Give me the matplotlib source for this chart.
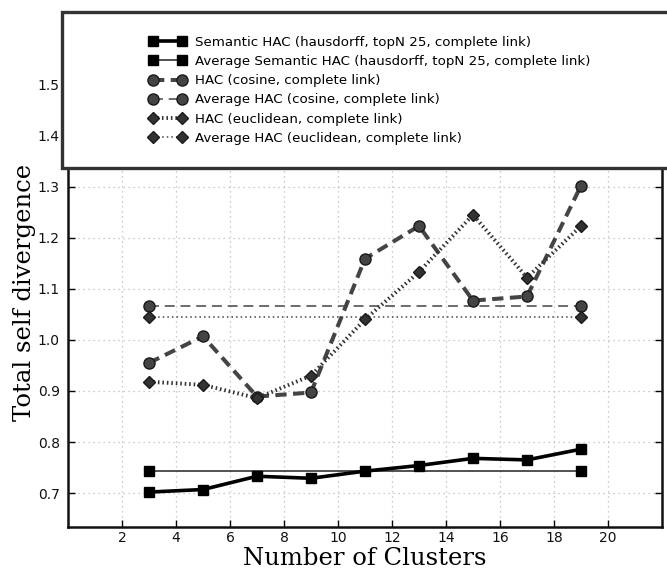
import matplotlib
matplotlib.use("Agg")
import matplotlib.pyplot as plt
from matplotlib.patches import Rectangle

# Number of clusters evaluated
clusters = [3, 5, 7, 9, 11, 13, 15, 17, 19]

# Total self divergence per clustering method
semantic_hac = [0.702, 0.707, 0.733, 0.729, 0.743, 0.754, 0.768, 0.765, 0.786]
hac_cosine = [0.955, 1.007, 0.889, 0.897, 1.159, 1.223, 1.077, 1.085, 1.302]
hac_euclidean = [0.918, 0.912, 0.886, 0.930, 1.040, 1.133, 1.245, 1.122, 1.223]

# Averages over all cluster counts, drawn across the evaluated range
avg_span = [3, 19]
avg_semantic = [0.743, 0.743]
avg_cosine = [1.066, 1.066]
avg_euclidean = [1.045, 1.045]

x_ticks = [2, 4, 6, 8, 10, 12, 14, 16, 18, 20]
y_ticks = [0.7, 0.8, 0.9, 1.0, 1.1, 1.2, 1.3, 1.4, 1.5]

W, H = 667, 571
fig = plt.figure(figsize=(W / 100, H / 100), dpi=100)
ax = fig.add_axes([68 / W, 1 - 527 / H, (662 - 68) / W, (527 - 58) / H])

l1, = ax.plot(clusters, semantic_hac, color="black", lw=2.6, marker="s",
              ms=7.5, mfc="black", mec="black", zorder=5,
              label="Semantic HAC (hausdorff, topN 25, complete link)")
l2, = ax.plot(avg_span, avg_semantic, color="#333333", lw=1.2, marker="s",
              ms=7.5, mfc="black", mec="black", zorder=4,
              label="Average Semantic HAC (hausdorff, topN 25, complete link)")
l3, = ax.plot(clusters, hac_cosine, color="#444444", lw=2.9, ls=(0, (2.8, 1.6)),
              marker="o", ms=8, mfc="#444444", mec="#1a1a1a", mew=1, zorder=4,
              label="HAC (cosine, complete link)")
l4, = ax.plot(avg_span, avg_cosine, color="#444444", lw=1.1, ls=(0, (6.5, 3.8)),
              marker="o", ms=8, mfc="#444444", mec="#1a1a1a", mew=1, zorder=3,
              label="Average HAC (cosine, complete link)")
l5, = ax.plot(clusters, hac_euclidean, color="#333333", lw=2.8, ls=(0, (0.4, 0.75)),
              marker="D", ms=6.5, mfc="#333333", mec="#1a1a1a", mew=1, zorder=4,
              label="HAC (euclidean, complete link)")
l6, = ax.plot(avg_span, avg_euclidean, color="#444444", lw=1.1, ls=(0, (1, 2)),
              marker="D", ms=6.5, mfc="#333333", mec="#1a1a1a", mew=1, zorder=3,
              label="Average HAC (euclidean, complete link)")

ax.set_xlim(0, 22)
ax.set_ylim(0.6336, 1.552)
ax.set_xticks(x_ticks)
ax.set_yticks(y_ticks)
ax.set_yticklabels([f"{v:.1f}" for v in y_ticks])
ax.tick_params(direction="in", length=5, width=1, labelsize=10, pad=6,
               top=True, right=True, labelcolor="#111111")
ax.tick_params(axis="x", pad=3)
ax.grid(True, ls=(0, (1, 3)), color="#bbbbbb", lw=0.9)
for s in ax.spines.values():
    s.set_linewidth(1.8)
    s.set_color("#111111")

ax.set_xlabel("Number of Clusters", family="DejaVu Serif", fontsize=17.5, labelpad=1)
ax.set_ylabel("Total self divergence", family="DejaVu Serif", fontsize=17.5, labelpad=1)

# Legend box drawn over the top of the axes
frame = Rectangle((62 / W, 1 - 168 / H), (W + 10 - 62) / W, (168 - 12) / H,
                  transform=fig.transFigure, facecolor="white",
                  edgecolor="#333333", lw=2.4, zorder=5)
fig.add_artist(frame)
leg = fig.legend(handles=[l1, l2, l3, l4, l5, l6], loc="upper left",
                 bbox_to_anchor=(137 / W, 1 - 24 / H), frameon=False,
                 fontsize=9.6, numpoints=2, handlelength=2.78,
                 labelspacing=0.46, handletextpad=0.68, markerscale=1.0)
leg.set_zorder(6)

fig.savefig("out.png", dpi=100)
